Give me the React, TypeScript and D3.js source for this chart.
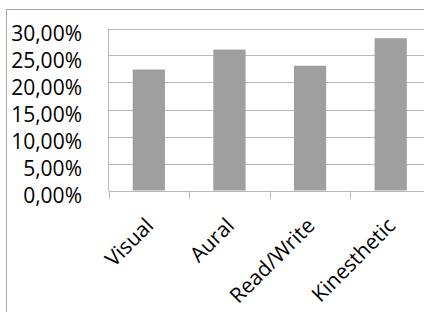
import React from "react";
import * as d3 from "d3";

const categories = ["Visual", "Aural", "Read/Write", "Kinesthetic"];
const values = [0.224, 0.261, 0.231, 0.282];
const yTicks = [0, 0.05, 0.1, 0.15, 0.2, 0.25, 0.3];

const W = 424;
const H = 312;
const FONT = "'Open Sans', sans-serif";

const locale = d3.formatLocale({ decimal: ",", thousands: ".", grouping: [3], currency: ["", "€"] });
const fmt = locale.format(".2%");

export default function App() {
  const y = d3.scaleLinear().domain([0, 0.3]).range([190.5, 28.5]);
  const x = d3.scaleBand<string>().domain(categories).range([108.5, 431]).padding(0);
  const bw = x.bandwidth() * 0.4;
  const grid = "#b8b8b8";
  return (
    <svg width={W} height={H} style={{ position: "absolute", left: 0, top: 0 }} fontFamily={FONT}>
      <rect x={0} y={0} width={W} height={H} fill="#fff" />
      <rect x={6.5} y={9.5} width={W + 10} height={H + 10} fill="#fff" stroke="#a6a6a6" strokeWidth={1} />
      {yTicks.map((t) => (
        <line key={"g" + t} x1={108.5} x2={W + 5} y1={Math.round(y(t)) + 0.5} y2={Math.round(y(t)) + 0.5} stroke={grid} strokeWidth={1} />
      ))}
      <line x1={108.5} x2={108.5} y1={y(0.3)} y2={y(0)} stroke={grid} />
      {categories.map((c) => (
        <line key={"t" + c} x1={Math.round(x(c)!) + 0.5} x2={Math.round(x(c)!) + 0.5} y1={y(0)} y2={y(0) + 8} stroke={grid} />
      ))}
      {categories.map((c, i) => (
        <rect
          key={"b" + c}
          x={x(c)! + (x.bandwidth() - bw) / 2}
          y={y(values[i])}
          width={bw}
          height={y(0) - y(values[i])}
          fill="#9f9f9f"
        />
      ))}
      {yTicks.map((t) => (
        <text key={"l" + t} x={82} y={y(t) + 4} textAnchor="end" dominantBaseline="central" fontSize={21} fill="#000">
          {fmt(t)}
        </text>
      ))}
      {categories.map((c) => {
        const cx = x(c)! + x.bandwidth() / 2;
        return (
          <text key={"c" + c} transform={`translate(${cx + 6},${227}) rotate(-45)`} textAnchor="end" fontSize={21} fill="#000">
            {c}
          </text>
        );
      })}
    </svg>
  );
}
